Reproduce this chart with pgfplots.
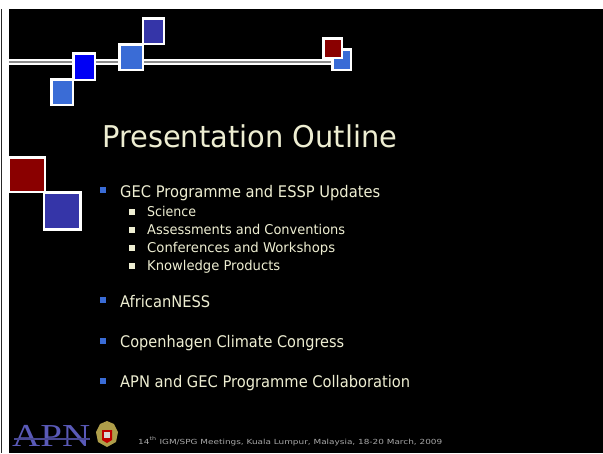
\documentclass[border=0pt]{standalone}
\usepackage{pgfplots}
\pgfplotsset{compat=1.18}
\usepackage{graphicx}
\usepackage{fontspec}
\setmainfont{DejaVu Sans}
\newfontfamily\apnfont{Liberation Serif}
\definecolor{cream}{HTML}{EEEED2}
\definecolor{lblue}{HTML}{3A6CD6}
\definecolor{pblue}{HTML}{0000F5}
\definecolor{dblue}{HTML}{3535A8}
\definecolor{dred}{HTML}{8A0000}
\definecolor{lgray}{HTML}{8C8C8C}
\definecolor{apnblue}{HTML}{5A5AB8}
\definecolor{foot}{HTML}{A8A8A8}
\newcommand\fitw[2]{\resizebox{#1pt}{\height}{#2}}
\newcommand\sq[5]{\addplot[fill=#1,draw=white,line width=2.5pt] coordinates {(#2,#3) (#4,#3) (#4,#5) (#2,#5)} --cycle;}
\newcommand\bul[4]{\addplot[fill=#1,draw=none] coordinates {(#2,#3) (#2+#4,#3) (#2+#4,#3+#4) (#2,#3+#4)} --cycle;}
\begin{document}
\begin{tikzpicture}
\begin{axis}[width=603pt,height=453pt,scale only axis,hide axis,
  xmin=0,xmax=603,ymin=0,ymax=453,y dir=reverse,clip=false]
% background
\addplot[fill=white,draw=none] coordinates {(0,0) (603,0) (603,453) (0,453)} --cycle;
\addplot[fill=black,draw=none] coordinates {(9,9) (603,9) (603,453) (9,453)} --cycle;
\addplot[draw=black!85,line width=1pt] coordinates {(1.5,9) (1.5,453)};
% top double line
\addplot[draw=white,line width=6pt] coordinates {(9,61.5) (334,61.5)};
\addplot[draw=lgray,line width=2pt] coordinates {(9,61.5) (334,61.5)};
% top squares
\sq{lblue}{51.5}{79.5}{73}{105}
\sq{pblue}{73.5}{53.5}{95}{80}
\sq{lblue}{119.5}{44.5}{143}{70}
\sq{dblue}{143}{18.5}{164}{44}
\sq{lblue}{332.5}{49.5}{351}{70}
\sq{dred}{323.5}{38.5}{342}{58}
% left squares
\sq{dred}{9}{157.5}{45}{192}
\sq{dblue}{44}{192.5}{80.5}{229.5}
% title
\node[anchor=base west,inner sep=0pt,text=cream] at (axis cs:102,147)
  {\fitw{295}{\fontsize{30}{36}\selectfont Presentation Outline}};
% main bullets
\bul{lblue}{100}{187}{6}
\bul{lblue}{100}{297}{6}
\bul{lblue}{100}{338}{6}
\bul{lblue}{100}{378}{6}
\node[anchor=base west,inner sep=0pt,text=cream] at (axis cs:120,197)
  {\fitw{260}{\fontsize{16}{19}\selectfont GEC Programme and ESSP Updates}};
\node[anchor=base west,inner sep=0pt,text=cream] at (axis cs:120,307)
  {\fitw{90}{\fontsize{16}{19}\selectfont AfricanNESS}};
\node[anchor=base west,inner sep=0pt,text=cream] at (axis cs:120,347)
  {\fitw{224}{\fontsize{16}{19}\selectfont Copenhagen Climate Congress}};
\node[anchor=base west,inner sep=0pt,text=cream] at (axis cs:120,387)
  {\fitw{290}{\fontsize{16}{19}\selectfont APN and GEC Programme Collaboration}};
% sub bullets
\bul{cream}{129}{209}{6}
\bul{cream}{129}{227}{6}
\bul{cream}{129}{245}{6}
\bul{cream}{129}{263}{6}
\node[anchor=base west,inner sep=0pt,text=cream] at (axis cs:147,216)
  {\fitw{49}{\fontsize{13.5}{16}\selectfont Science}};
\node[anchor=base west,inner sep=0pt,text=cream] at (axis cs:147,234)
  {\fitw{198}{\fontsize{13.5}{16}\selectfont Assessments and Conventions}};
\node[anchor=base west,inner sep=0pt,text=cream] at (axis cs:147,252)
  {\fitw{188}{\fontsize{13.5}{16}\selectfont Conferences and Workshops}};
\node[anchor=base west,inner sep=0pt,text=cream] at (axis cs:147,270)
  {\fitw{133}{\fontsize{13.5}{16}\selectfont Knowledge Products}};
% footer: APN logo
\node[anchor=base west,inner sep=0pt,text=apnblue] at (axis cs:12,446)
  {\fitw{78}{\apnfont\fontsize{32}{36}\selectfont APN}};
\addplot[draw=apnblue!80!black,line width=1.2pt] coordinates {(14,439) (90,439)};
% crest (approximation)
\addplot[fill=black!40!yellow!70!brown,draw=none] coordinates
  {(96,432) (100,424) (107,421) (114,424) (118,432) (116,442) (107,447) (98,442)} --cycle;
\addplot[fill=red!75!black,draw=none] coordinates
  {(102,430) (112,430) (112,440) (107,443) (102,440)} --cycle;
\addplot[fill=white!70!gray,draw=none] coordinates
  {(104,432) (110,432) (110,438) (104,438)} --cycle;
\node[anchor=base west,inner sep=0pt,text=foot] at (axis cs:138,444)
  {\fitw{304}{\fontsize{7}{8}\selectfont 14\textsuperscript{th} IGM/SPG Meetings, Kuala Lumpur, Malaysia, 18-20 March, 2009}};
\end{axis}
\end{tikzpicture}
\end{document}
